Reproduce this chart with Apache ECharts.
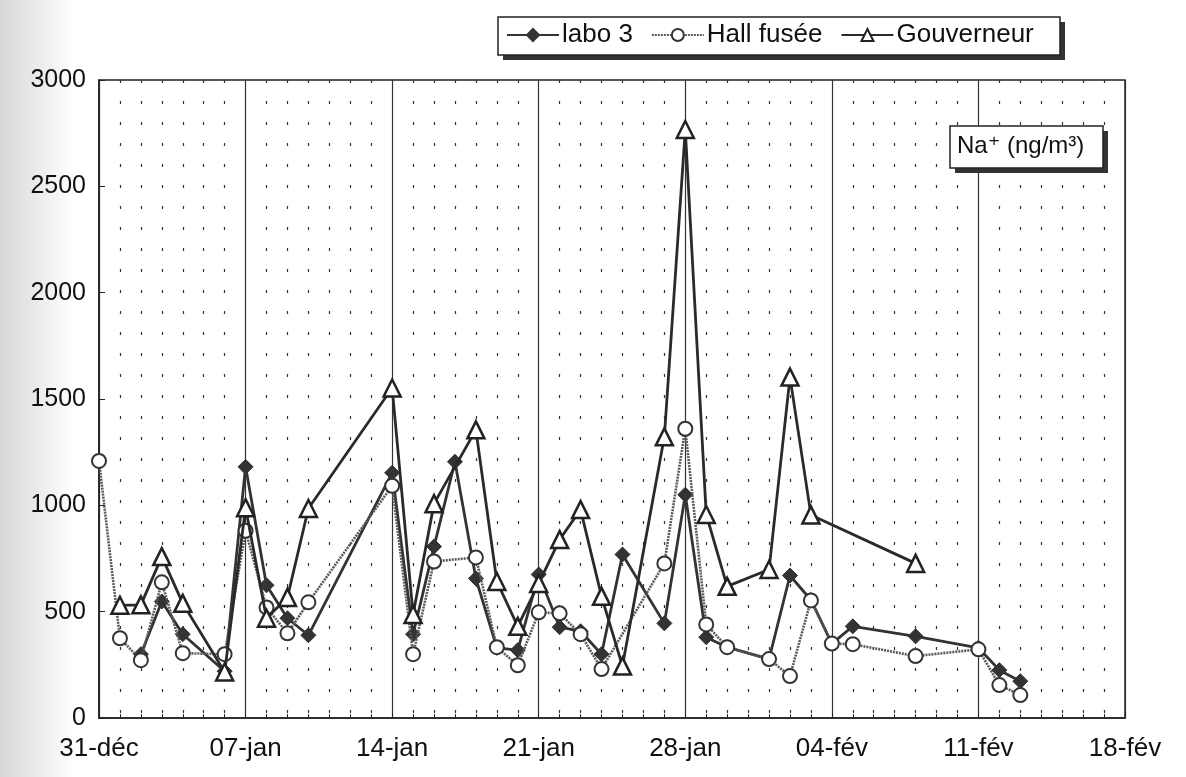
<!DOCTYPE html>
<html>
<head>
<meta charset="utf-8">
<script src="https://cdn.jsdelivr.net/npm/echarts@6/dist/echarts.min.js"></script>
<style>
html,body{margin:0;padding:0;background:#fff;}
#chart{width:1186px;height:777px;}
</style>
</head>
<body>
<div id="chart"></div>
<script>
// Day index (days since 31-déc) and Na+ concentrations (ng/m3)
const xTickLabels = ['31-déc', '07-jan', '14-jan', '21-jan', '28-jan', '04-fév', '11-fév', '18-fév'];

const labo3Days   = [2, 3, 4, 6, 7, 8, 9, 10, 14, 15, 16, 17, 18, 19, 20, 21, 22, 23, 24, 25, 27, 28, 29, 30, 32, 33, 34, 35, 36, 39, 42, 43, 44];
const labo3Values = [300, 548, 394, 220, 1181, 624, 469, 389, 1153, 394, 806, 1205, 656, 330, 319, 675, 427, 408, 300, 769, 445, 1050, 380, 333, 277, 670, 555, 350, 431, 384, 330, 225, 173];

const hallDays   = [0, 1, 2, 3, 4, 6, 7, 8, 9, 10, 14, 15, 16, 18, 19, 20, 21, 22, 23, 24, 27, 28, 29, 30, 32, 33, 34, 35, 36, 39, 42, 43, 44];
const hallValues = [1209, 375, 272, 638, 305, 300, 881, 520, 398, 544, 1092, 300, 736, 755, 333, 248, 497, 492, 394, 230, 727, 1360, 440, 333, 277, 197, 553, 350, 347, 291, 323, 155, 108];

const gouvDays   = [1, 2, 3, 4, 6, 7, 8, 9, 10, 14, 15, 16, 18, 19, 20, 21, 22, 23, 24, 25, 27, 28, 29, 30, 32, 33, 34, 39];
const gouvValues = [530, 532, 759, 539, 216, 989, 469, 567, 985, 1552, 487, 1008, 1355, 642, 431, 633, 839, 980, 572, 244, 1322, 2767, 957, 619, 698, 1603, 955, 727];

const seriesNames = ['labo 3', 'Hall fusée', 'Gouverneur'];

function pairs(days, vals) { return days.map((d, i) => [d, vals[i]]); }

const chart = echarts.init(document.getElementById('chart'), null, {renderer: 'canvas'});
const FONT = '"Liberation Sans", Arial, sans-serif';

chart.setOption({
  animation: false,
  backgroundColor: '#fff',
  grid: {
    left: 99, right: 61, top: 80, bottom: 59,
    show: true, borderColor: '#222', borderWidth: 1.5, backgroundColor: 'transparent'
  },
  graphic: [
    // scanned-page shading at far left
    {type: 'rect', z: -10, silent: true, shape: {x: 0, y: 0, width: 75, height: 777},
     style: {fill: new echarts.graphic.LinearGradient(0, 0, 1, 0, [
       {offset: 0, color: '#d8d8d8'}, {offset: 0.6, color: '#efefef'}, {offset: 1, color: '#ffffff'}])}},
    // legend frame with drop shadow
    {type: 'rect', z: 0, silent: true, shape: {x: 503, y: 22, width: 562, height: 38}, style: {fill: '#333'}},
    {type: 'rect', z: 1, silent: true, shape: {x: 498, y: 17, width: 562, height: 38},
     style: {fill: '#fff', stroke: '#222', lineWidth: 1.5}},
    // Na+ label box with drop shadow
    {type: 'rect', z: 10, silent: true, shape: {x: 955, y: 131, width: 153, height: 42}, style: {fill: '#333'}},
    {type: 'rect', z: 11, silent: true, shape: {x: 950, y: 126, width: 153, height: 42},
     style: {fill: '#fff', stroke: '#222', lineWidth: 1.5}},
    {type: 'text', z: 12, silent: true, left: 957, top: 134,
     style: {
       text: 'Na⁺ (ng/m³)',
       font: 'normal 24px "Liberation Sans", "DejaVu Sans", Arial, sans-serif',
       fill: '#111'
     }}
  ],
  legend: {
    data: seriesNames,
    left: 506, top: 22,
    padding: 0,
    itemGap: 18,
    itemWidth: 52, itemHeight: 15,
    z: 5,
    textStyle: {fontFamily: FONT, fontSize: 26, color: '#111', padding: [0, 0, 0, -2]}
  },
  xAxis: {
    type: 'value',
    min: 0, max: 49, interval: 7,
    axisLine: {show: true, lineStyle: {color: '#222', width: 1.5}},
    axisTick: {show: true, inside: true, length: 5, lineStyle: {color: '#222'}},
    minorTick: {show: true, splitNumber: 7, length: 4, lineStyle: {color: '#222'}},
    axisLabel: {
      margin: 18,
      fontFamily: FONT, fontSize: 26, color: '#111',
      showMaxLabel: true, showMinLabel: true,
      formatter: v => xTickLabels[Math.round(v / 7)] || ''
    },
    splitLine: {show: true, lineStyle: {color: '#333', width: 1.2}},
    minorSplitLine: {show: true, lineStyle: {color: '#333', width: 1.2, type: [3, 18]}}
  },
  yAxis: {
    type: 'value',
    min: 0, max: 3000, interval: 500,
    axisLine: {show: true, lineStyle: {color: '#222', width: 1.5}},
    axisTick: {show: true, inside: true, length: 6, lineStyle: {color: '#222'}},
    axisLabel: {margin: 13, fontFamily: FONT, fontSize: 25, color: '#111', formatter: v => String(v)},
    splitLine: {show: false}
  },
  series: [
    {
      name: seriesNames[0], type: 'line',
      data: pairs(labo3Days, labo3Values),
      symbol: 'diamond', symbolSize: 15,
      lineStyle: {color: '#333', width: 2.8},
      itemStyle: {color: '#333', borderColor: '#333', borderWidth: 1},
      z: 3
    },
    {
      name: seriesNames[1], type: 'line',
      data: pairs(hallDays, hallValues),
      symbol: 'circle', symbolSize: 14,
      lineStyle: {color: '#595959', width: 2.6, type: [2, 1]},
      itemStyle: {color: '#fff', borderColor: '#333', borderWidth: 2},
      z: 4
    },
    {
      name: seriesNames[2], type: 'line',
      data: pairs(gouvDays, gouvValues),
      symbol: 'triangle', symbolSize: 17,
      lineStyle: {color: '#2a2a2a', width: 2.8},
      itemStyle: {color: '#fff', borderColor: '#222', borderWidth: 2.5},
      z: 5
    }
  ]
});
</script>
</body>
</html>
